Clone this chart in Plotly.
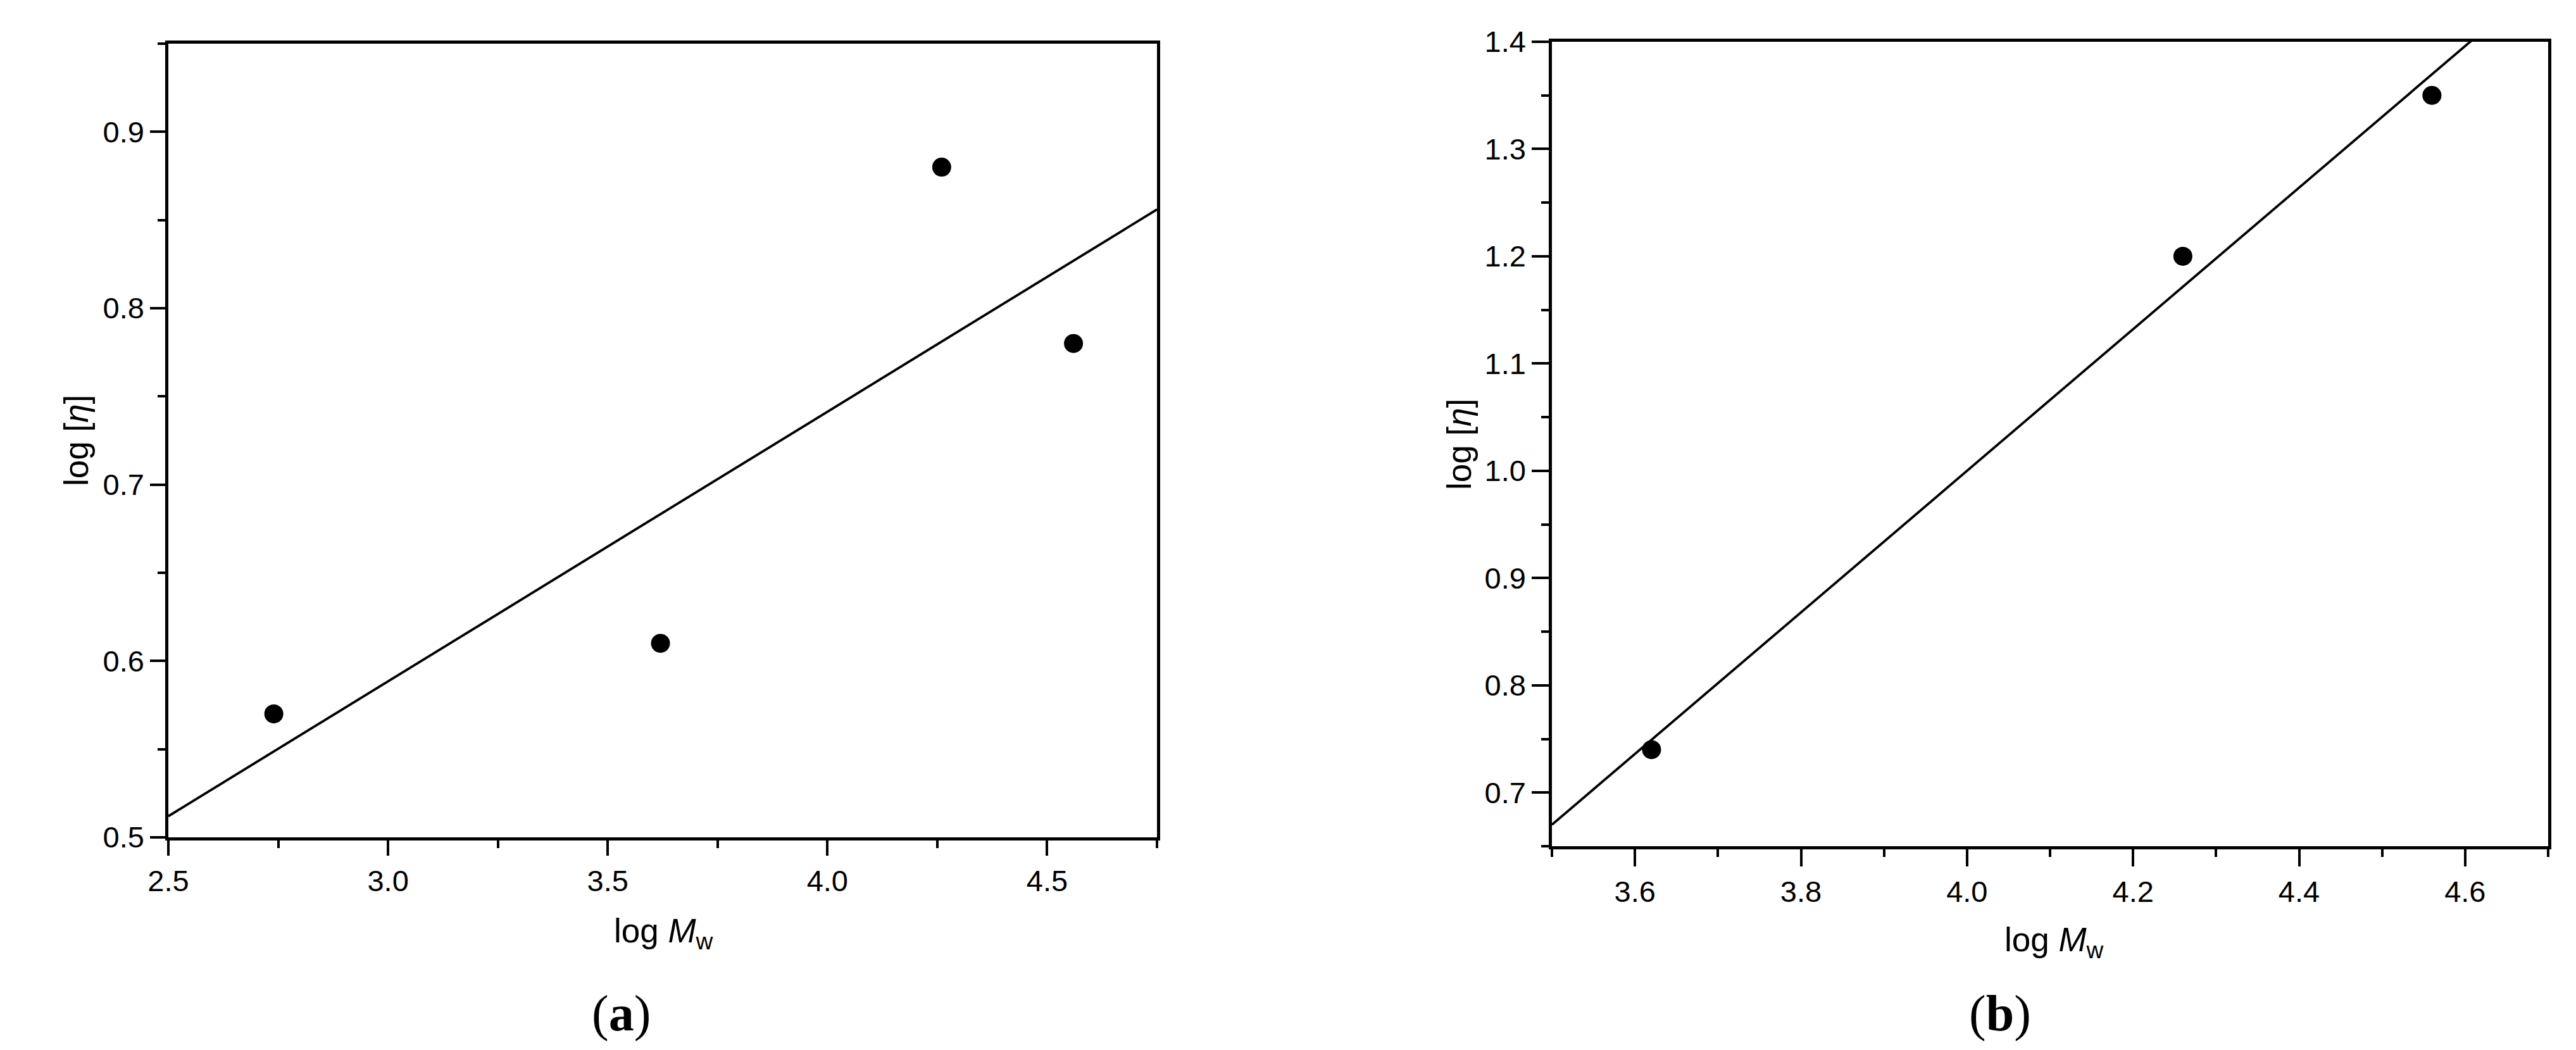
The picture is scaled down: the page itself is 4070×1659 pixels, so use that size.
import plotly.graph_objects as go

# ---- data panel (a)
a_x = [2.74, 3.62, 4.26, 4.56]
a_y = [0.57, 0.61, 0.88, 0.78]
a_fit_x = [2.5, 4.75]
a_fit_y = [0.512, 0.856]

# ---- data panel (b)
b_x = [3.62, 4.26, 4.56]
b_y = [0.74, 1.20, 1.35]
b_fit_x = [3.5, 4.7]
b_fit_y = [0.670, 1.462]

W, H = 4070, 1659
FONT = "Liberation Sans, Arial, sans-serif"
TICKF = 47
TITLEF = 53

fig = go.Figure()
fig.add_trace(go.Scatter(x=a_fit_x, y=a_fit_y, mode="lines",
                         line=dict(color="black", width=3.8), xaxis="x", yaxis="y",
                         showlegend=False))
fig.add_trace(go.Scatter(x=a_x, y=a_y, mode="markers",
                         marker=dict(color="black", size=30), xaxis="x", yaxis="y",
                         showlegend=False))
fig.add_trace(go.Scatter(x=b_fit_x, y=b_fit_y, mode="lines",
                         line=dict(color="black", width=3.8), xaxis="x2", yaxis="y2",
                         showlegend=False))
fig.add_trace(go.Scatter(x=b_x, y=b_y, mode="markers",
                         marker=dict(color="black", size=30), xaxis="x2", yaxis="y2",
                         showlegend=False))


def ax(domain, rng, dtick, tick0, mdtick, mtick0, anchor, ticklen=24):
    return dict(domain=domain, range=rng, dtick=dtick, tick0=tick0, anchor=anchor,
                automargin=False,
                showgrid=False, zeroline=False, showline=True, mirror=True,
                linecolor="black", linewidth=4.5, ticks="outside", ticklen=ticklen,
                tickwidth=4, tickcolor="black", tickformat=".1f",
                tickfont=dict(family=FONT, size=TICKF, color="black"),
                minor=dict(dtick=mdtick, tick0=mtick0, ticks="outside", ticklen=12,
                           tickwidth=4, tickcolor="black", showgrid=False))


ya0 = 1 - 1315 / H
ya1 = 1 - 61 / H
yb0 = 1 - 1329 / H
yb1 = 1 - 58 / H
xa0, xa1 = 258 / W, 1820 / W
xb0, xb1 = 2444 / W, 4018 / W

fig.update_layout(
    width=W, height=H, margin=dict(l=0, r=0, t=0, b=0, autoexpand=False),
    paper_bgcolor="white", plot_bgcolor="white",
    xaxis=ax([xa0, xa1], [2.5, 4.75], 0.5, 2.5, 0.25, 2.5, "y"),
    yaxis=ax([ya0, ya1], [0.5, 0.95], 0.1, 0.5, 0.05, 0.5, "x"),
    xaxis2=ax([xb0, xb1], [3.5, 4.7], 0.2, 3.6, 0.1, 3.5, "y2", ticklen=27),
    yaxis2=ax([yb0, yb1], [0.65, 1.4], 0.1, 0.7, 0.05, 0.65, "x2", ticklen=27),
)

annots = [
    dict(text="log [<i>η</i>]", x=112 / W, y=1 - 688 / H, textangle=-90,
         font=dict(family=FONT, size=TITLEF)),
    dict(text="log <i>M</i><sub>w</sub>", x=1040 / W, y=1 - 1466 / H,
         font=dict(family=FONT, size=TITLEF)),
    dict(text="log [<i>η</i>]", x=2297 / W, y=1 - 694 / H, textangle=-90,
         font=dict(family=FONT, size=TITLEF)),
    dict(text="log <i>M</i><sub>w</sub>", x=3237 / W, y=1 - 1480 / H,
         font=dict(family=FONT, size=TITLEF)),
    dict(text="(<b>a</b>)", x=973 / W, y=1 - 1593 / H,
         font=dict(family="Liberation Serif, Times New Roman, serif", size=80)),
    dict(text="(<b>b</b>)", x=3152 / W, y=1 - 1593 / H,
         font=dict(family="Liberation Serif, Times New Roman, serif", size=80)),
]
for a in annots:
    a.update(xref="paper", yref="paper", showarrow=False, xanchor="center",
             yanchor="middle")
    a["font"]["color"] = "black"
fig.update_layout(annotations=annots)

fig.write_html("out.html")
